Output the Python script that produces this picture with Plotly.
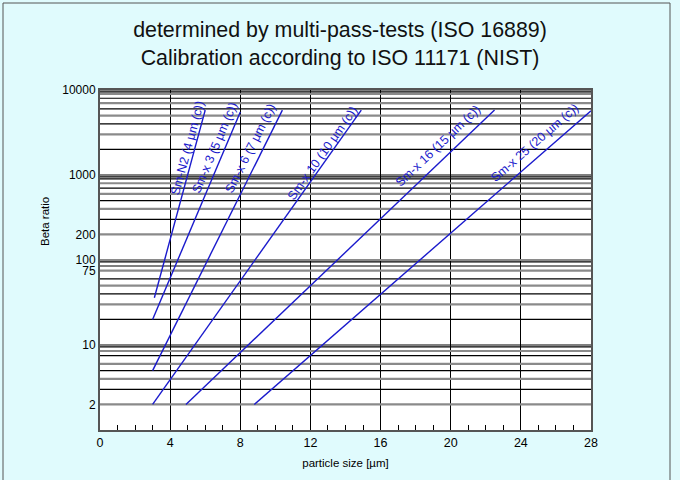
import math
import plotly.graph_objects as go

# ---- data ----
filter_names = ["Sm-N2 (4 µm (c))", "Sm-x 3 (5 µm (c))", "Sm-x 6 (7 µm (c))",
                "Sm-x 10 (10 µm (c))", "Sm-x 16 (15 µm (c))", "Sm-x 25 (20 µm (c))"]
size_start = [3.1, 3.0, 3.0, 3.0, 4.9, 8.8]
size_end = [6.0, 8.0, 10.4, 14.9, 22.5, 28.0]
beta_start = [36, 20, 5, 2, 2, 2]
beta_end = [5800, 5500, 5800, 5800, 5800, 5700]

y_tick_values = [2, 10, 75, 100, 200, 1000, 10000]
x_tick_values = [0, 4, 8, 12, 16, 20, 24, 28]

grid_gray = [2, 4, 6, 8.5, 30, 50, 75, 100, 200, 400, 600, 800, 3000, 5000, 7000, 9000]
grid_black = [3, 5, 7.5, 9.5, 10, 20, 40, 60, 85, 95, 300, 500, 700, 900, 950, 1000,
              2000, 4000, 6000, 8000, 9500, 10000]

# label anchor points (particle size, log10 beta)
label_x = [5.02, 6.56, 8.61, 12.66, 19.27, 24.78]
label_logbeta = [3.312, 3.312, 3.312, 3.253, 3.347, 3.38]

# ---- layout constants ----
W, H = 680, 480
ML, MR, MT, MB = 100, 89, 90, 50
PW, PH = W - ML - MR, H - MT - MB
XR = [0, 28]
YR = [0, 4]
px_per_x = PW / (XR[1] - XR[0])
px_per_dec = PH / (YR[1] - YR[0])

BLUE = "#1a1acc"
BG = "#e0fbfd"

fig = go.Figure()

def grid_trace(vals, color, width):
    xs, ys = [], []
    for v in vals:
        xs += [XR[0], XR[1], None]
        ys += [v, v, None]
    return go.Scatter(x=xs, y=ys, mode="lines", line=dict(color=color, width=width),
                      hoverinfo="skip", showlegend=False)

fig.add_trace(grid_trace(grid_gray, "#8a8a8a", 2.2))
fig.add_trace(grid_trace(grid_black, "#000000", 1.2))

for i, name in enumerate(filter_names):
    fig.add_trace(go.Scatter(x=[size_start[i], size_end[i]], y=[beta_start[i], beta_end[i]],
                             mode="lines", line=dict(color=BLUE, width=1.4),
                             name=name, showlegend=False))
    dx = (size_end[i] - size_start[i]) * px_per_x
    dy = (math.log10(beta_end[i]) - math.log10(beta_start[i])) * px_per_dec
    ang = math.degrees(math.atan2(dy, dx))
    fig.add_annotation(x=label_x[i], y=label_logbeta[i], xref="x", yref="y",
                       text=name, showarrow=False, textangle=-ang,
                       font=dict(family="Arial, Liberation Sans", size=12.5, color=BLUE),
                       xanchor="center", yanchor="middle")

# y-axis title
fig.add_annotation(x=(45 - ML) / PW, y=(H - MB - 222) / PH, xref="paper", yref="paper",
                   text="Beta ratio", textangle=-90, showarrow=False,
                   font=dict(size=11.5, color="black"), xanchor="center", yanchor="middle")

# outer frame
fig.add_shape(type="rect", xref="paper", yref="paper",
              x0=(3 - ML) / PW, x1=(670 - ML) / PW,
              y0=(H - MB - 485) / PH, y1=(H - MB - 3) / PH,
              line=dict(color="#555555", width=1), fillcolor="rgba(0,0,0,0)", layer="below")

fig.update_layout(
    width=W, height=H,
    margin=dict(l=ML, r=MR, t=MT, b=MB),
    paper_bgcolor=BG,
    plot_bgcolor="white",
    font=dict(family="Arial, Liberation Sans", color="black"),
    title=dict(text="determined by multi-pass-tests (ISO 16889)<br>Calibration according to ISO 11171 (NIST)",
               x=0.5, xanchor="center", y=0.922, yanchor="middle",
               font=dict(size=21.4, color="#111111")),
    xaxis=dict(range=XR, tickvals=x_tick_values, ticktext=[str(v) for v in x_tick_values],
               showgrid=True, gridcolor="black", gridwidth=1,
               ticks="inside", ticklen=5, tickcolor="black",
               minor=dict(dtick=1, ticks="inside", ticklen=5, tickcolor="black", showgrid=False),
               showline=True, linecolor="#555555", linewidth=2, mirror=True,
               zeroline=False, tickfont=dict(size=12.5),
               title=dict(text="particle size [µm]", font=dict(size=11.5), standoff=10)),
    yaxis=dict(type="log", range=YR, tickvals=y_tick_values,
               ticktext=[str(v) for v in y_tick_values],
               showgrid=False, ticks="", showline=True, linecolor="#555555", linewidth=2,
               mirror=True, zeroline=False, tickfont=dict(size=12)),
)

fig.write_html("out.html", config={"displayModeBar": False},
               post_script="document.body.style.margin='0';document.body.style.background='%s';" % BG)
